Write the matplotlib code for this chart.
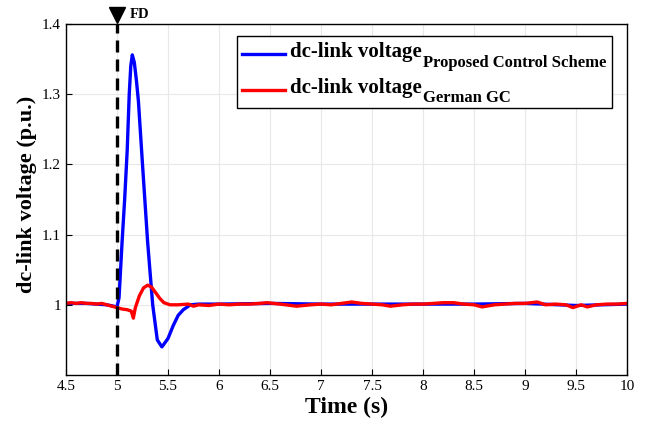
import matplotlib
matplotlib.use('Agg')
import matplotlib.pyplot as plt
from matplotlib.patches import Rectangle
from matplotlib.transforms import offset_copy

plt.rcParams['font.family'] = 'Liberation Serif'

# German GC response (red)
t_gc = [4.5, 4.55, 4.6, 4.65, 4.7, 4.75, 4.8, 4.85, 4.9, 4.95, 5.0, 5.05, 5.1, 5.14, 5.16,
        5.18, 5.22, 5.26, 5.3, 5.34, 5.38, 5.42, 5.46, 5.52, 5.6, 5.7, 5.75, 5.8, 5.9, 6.0, 6.1,
        6.2, 6.3, 6.4, 6.47, 6.6, 6.76, 6.9, 7.0, 7.1, 7.2, 7.3, 7.4, 7.5, 7.6, 7.68,
        7.8, 7.9, 8.0, 8.1, 8.2, 8.3, 8.4, 8.5, 8.58, 8.7, 8.8, 8.9, 9.0, 9.12, 9.2, 9.3,
        9.4, 9.47, 9.55, 9.61, 9.7, 9.8, 9.9, 10.0]
v_gc = [1.002, 1.003, 1.002, 1.003, 1.002, 1.002, 1.001, 1.002, 1.0, 0.998, 0.996, 0.994, 0.993, 0.991, 0.981,
        0.996, 1.013, 1.024, 1.028, 1.025, 1.017, 1.009, 1.003, 1.0, 1.0, 1.001, 0.998, 1.0, 0.999, 1.001, 1.0,
        1.001, 1.001, 1.002, 1.003, 1.001, 0.998, 1.0, 1.001, 1.0, 1.002, 1.004, 1.002, 1.001, 1.0, 0.998,
        1.0, 1.001, 1.001, 1.002, 1.003, 1.003, 1.001, 1.0, 0.997, 1.0, 1.001, 1.002, 1.002, 1.004, 1.0, 1.001,
        1.0, 0.996, 1.0, 0.997, 1.0, 1.001, 1.001, 1.002]

# Proposed control scheme response (blue)
t_pc = [4.5, 4.6, 4.7, 4.8, 4.9, 5.0, 5.02, 5.05, 5.075, 5.1, 5.12, 5.135, 5.15, 5.17, 5.19,
        5.21, 5.25, 5.3, 5.35, 5.395, 5.44, 5.5, 5.55, 5.6, 5.65, 5.72, 5.8, 6.0, 6.5,
        7.0, 7.5, 8.0, 8.5, 9.0, 9.5, 10.0]
v_pc = [1.002, 1.002, 1.002, 1.001, 1.0, 0.997, 1.01, 1.09, 1.15, 1.22, 1.30, 1.34, 1.356, 1.345, 1.32,
        1.29, 1.2, 1.09, 1.0, 0.95, 0.94, 0.952, 0.97, 0.985, 0.993, 1.0, 1.001, 1.001, 1.002,
        1.001, 1.001, 1.001, 1.001, 1.002, 0.999, 1.001]

xticks = [4.5, 5, 5.5, 6, 6.5, 7, 7.5, 8, 8.5, 9, 9.5, 10]
xticklabels = ['4.5', '5', '5.5', '6', '6.5', '7', '7.5', '8', '8.5', '9', '9.5', '10']
yticks = [1, 1.1, 1.2, 1.3, 1.4]
yticklabels = ['1', '1.1', '1.2', '1.3', '1.4']
t_fault = 5.0

legend_main = ['dc-link voltage', 'dc-link voltage']
legend_sub = ['Proposed Control Scheme', 'German GC']
colors = ['#0000ff', '#ff0000']

fig = plt.figure(figsize=(6.47, 4.30), dpi=100)
ax = fig.add_axes([66 / 647, 55 / 430, 561 / 647, 351 / 430])

ax.plot(t_pc, v_pc, color=colors[0], lw=2.4)
ax.plot(t_gc, v_gc, color=colors[1], lw=2.4)
ax.axvline(t_fault, color='black', lw=2.4, ls=(0, (3.6, 2.1)), zorder=5)

ax.plot([t_fault], [1.027], marker='v', color='black', markersize=11,
        transform=ax.get_xaxis_transform(), clip_on=False)
ax.text(t_fault + 0.12, 1.027, 'FD', transform=ax.get_xaxis_transform(),
        fontsize=10.5, fontweight='bold', va='center', ha='left')

ax.set_xlim(4.5, 10)
ax.set_ylim(0.9, 1.4)
ax.set_xticks(xticks)
ax.set_xticklabels(xticklabels)
ax.set_yticks(yticks)
ax.set_yticklabels(yticklabels)
ax.tick_params(direction='in', labelsize=11, length=4)
ax.grid(True, color='#e8e8e8', lw=0.8)
ax.set_axisbelow(True)
for s in ax.spines.values():
    s.set_linewidth(1.0)

ax.set_xlabel('Time (s)', fontsize=17, fontweight='bold', labelpad=3)
ax.set_ylabel('dc-link voltage (p.u.)', fontsize=16, fontweight='bold')
ax.yaxis.set_label_coords(-0.052, 0.515)

# legend drawn by hand so the subscript can be 12 pt under a 15 pt label
def fx(px):
    return (px - 66) / 561

def fy(py):
    return (375 - py) / 351

fig.canvas.draw()
renderer = fig.canvas.get_renderer()
line_y = [54, 89.5]
base_y = [57.5, 93]
right = 0
for i in range(2):
    ax.plot([fx(242), fx(285)], [fy(line_y[i])] * 2, color=colors[i], lw=2.4,
            transform=ax.transAxes, zorder=11)
    t = ax.text(fx(290), fy(base_y[i]), legend_main[i], transform=ax.transAxes,
                fontsize=15, fontweight='bold', va='baseline', ha='left', zorder=11)
    w = t.get_window_extent(renderer).width
    tr = offset_copy(ax.transAxes, fig=fig, x=w + 1.5, y=-9.5, units='dots')
    s = ax.text(fx(290), fy(base_y[i]), legend_sub[i], transform=tr,
                fontsize=12, fontweight='bold', va='baseline', ha='left', zorder=11)
    right = max(right, s.get_window_extent(renderer).x1)

right_px = right - fig.bbox.width * ax.get_position().x0 + 66 + 5
ax.add_patch(Rectangle((fx(237), fy(108)), fx(right_px) - fx(237), fy(36) - fy(108),
                       transform=ax.transAxes, facecolor='white', edgecolor='black',
                       lw=1.0, zorder=10))

fig.savefig('out.png', dpi=100)
